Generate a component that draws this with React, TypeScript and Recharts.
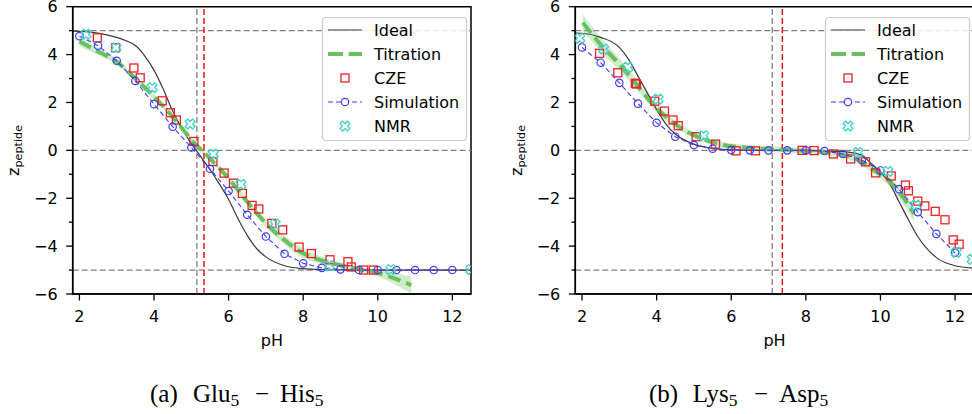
import React from 'react';
import { ComposedChart, Line, Scatter, Area, XAxis, YAxis, ReferenceLine, ReferenceArea } from 'recharts';

const FONT = '"DejaVu Sans", sans-serif';
const SERIF = '"Liberation Serif", "Times New Roman", serif';

// axes
const X_MIN = 1.82;
const X_MAX = 12.5;
const xTicks = [2, 4, 6, 8, 10, 12];
const yTicks = [-6, -5, -4, -3, -2, -1, 0, 1, 2, 3, 4, 5, 6];
const guideZ = [5, 0, -5];

// (a) Glu5 - His5
const idealPhA = [1.82, 2, 2.5, 3, 3.25, 3.5, 3.75, 4, 4.25, 4.5, 4.75, 5, 5.25, 5.5, 5.75, 6, 6.25, 6.5, 6.75, 7, 7.5, 8, 8.5, 9, 10, 11, 12.5];
const idealZA = [4.98, 4.97, 4.9, 4.72, 4.58, 4.38, 3.95, 3.35, 2.55, 1.65, 0.9, 0.28, -0.25, -0.8, -1.4, -2.05, -2.85, -3.55, -4.1, -4.45, -4.82, -4.94, -4.98, -4.99, -5, -5, -5];
const titPhA = [2.0, 2.5, 3, 3.5, 4, 4.5, 5, 5.5, 6, 6.5, 7, 7.5, 8, 8.5, 9, 9.5, 10, 10.5, 10.9];
const titZA = [4.55, 4.13, 3.7, 3.0, 2.24, 1.4, 0.45, -0.34, -1.17, -2.15, -3.05, -3.75, -4.3, -4.6, -4.8, -4.97, -5.12, -5.38, -5.63];
const titErrA = [0.2, 0.15, 0.12, 0.1, 0.1, 0.1, 0.1, 0.1, 0.1, 0.12, 0.15, 0.18, 0.2, 0.15, 0.1, 0.1, 0.15, 0.25, 0.35];
const czePhA = [2.48, 2.97, 3.46, 3.63, 4.22, 4.44, 4.6, 5.07, 5.58, 5.88, 6.13, 6.37, 6.63, 6.81, 7.16, 7.45, 7.89, 8.22, 8.72, 9.2, 9.29, 9.62, 9.88];
const czeZA = [4.7, 4.29, 3.44, 3.03, 2.07, 1.57, 1.27, 0.37, -0.47, -0.95, -1.37, -1.8, -2.3, -2.45, -3.05, -3.32, -4.04, -4.31, -4.57, -4.65, -4.87, -5.0, -5.0];
const simPh = [2, 2.5, 3, 3.5, 4, 4.5, 5, 5.5, 6, 6.5, 7, 7.5, 8, 8.5, 9, 9.5, 10, 10.5, 11, 11.5, 12];
const simZA = [4.77, 4.37, 3.74, 2.9, 1.93, 0.99, 0.12, -0.77, -1.7, -2.69, -3.6, -4.32, -4.72, -4.91, -4.97, -5.0, -5.0, -5.0, -5.0, -5.0, -5.0];
const nmrPhA = [2.18, 2.98, 3.95, 4.97, 5.59, 6.33, 7.25, 8.7, 10.35, 12.5];
const nmrZA = [4.85, 4.29, 2.62, 1.1, -0.16, -1.42, -3.08, -4.82, -4.98, -4.98];
const pIA = [5.15, 5.34];

// (b) Lys5 - Asp5
const idealPhB = [1.82, 2, 2.5, 3, 3.25, 3.5, 3.75, 4, 4.25, 4.5, 5, 5.5, 6, 7, 8, 9, 9.5, 9.75, 10, 10.25, 10.5, 10.75, 11, 11.5, 12, 12.5];
const idealZB = [4.9, 4.89, 4.72, 4.3, 3.8, 3.1, 2.4, 1.7, 1.1, 0.68, 0.26, 0.08, 0.02, 0, -0.01, -0.05, -0.2, -0.55, -0.9, -1.4, -2.15, -2.9, -3.6, -4.48, -4.82, -4.92];
const titPhB = [2.02, 2.5, 3, 3.4, 3.8, 4.2, 4.66, 5.2, 5.7, 6.4, 7, 7.5, 8, 8.5, 9, 9.25, 9.75, 10.2, 10.65, 10.9];
const titZB = [5.33, 4.42, 3.6, 2.87, 2.1, 1.47, 0.92, 0.5, 0.25, 0.11, 0.05, 0.02, -0.02, -0.08, -0.2, -0.28, -0.75, -1.24, -2.05, -2.65];
const titErrB = [0.35, 0.3, 0.25, 0.2, 0.18, 0.15, 0.13, 0.12, 0.12, 0.12, 0.12, 0.12, 0.12, 0.12, 0.12, 0.13, 0.15, 0.2, 0.28, 0.35];
const czePhB = [2.47, 2.96, 3.43, 3.46, 3.95, 4.21, 4.44, 4.58, 5.06, 5.58, 6.13, 6.65, 7.9, 8.22, 8.74, 9.2, 9.6, 9.87, 10.29, 10.67, 10.75, 11.0, 11.19, 11.47, 11.73, 11.95, 12.11];
const czeZB = [4.05, 3.24, 2.8, 2.77, 2.05, 1.64, 1.27, 1.03, 0.57, 0.26, -0.02, -0.02, 0, -0.01, -0.15, -0.36, -0.48, -0.94, -1.07, -1.45, -1.69, -2.12, -2.32, -2.55, -2.9, -3.74, -3.92];
const simZB = [4.3, 3.66, 2.82, 1.95, 1.15, 0.57, 0.22, 0.07, 0.01, 0, 0, 0, 0, -0.03, -0.15, -0.41, -0.84, -1.62, -2.58, -3.49, -4.28];
const nmrPhB = [1.94, 2.58, 3.23, 4.04, 5.26, 9.4, 10.2, 10.95, 12.03, 12.46];
const nmrZB = [4.68, 4.23, 3.47, 2.14, 0.61, -0.09, -0.88, -2.29, -4.26, -4.55];
const pIB = [7.1, 7.37];

const legendNames = ['Ideal', 'Titration', 'CZE', 'Simulation', 'NMR'];

const C_IDEAL = '#3a3a3a';
const C_TIT = '#6abf5e';
const C_BAND = '#a9dca0';
const C_CZE = '#e82222';
const C_SIM = '#3c3cff';
const C_NMR = '#45cfc6';
const C_GUIDE = '#808080';

const pts = (xs: number[], ys: number[]) => xs.map((x, i) => ({ x, y: ys[i] }));
const bandPts = (xs: number[], ys: number[], err: number[]) =>
  xs.map((x, i) => ({ x, band: [ys[i] - err[i], ys[i] + err[i]] }));

const fmt = (v: number) => (v < 0 ? `\u2212${-v}` : `${v}`);

const XTick = (p: any) => (
  <g>
    <line x1={p.x} x2={p.x} y1={p.y} y2={p.y + 6.5} stroke="#000" strokeWidth={1.3} />
    <text x={p.x} y={p.y + 28.3} textAnchor="middle" fontSize={16} fontFamily={FONT} fill="#000">
      {fmt(p.payload.value)}
    </text>
  </g>
);

const YTick = (p: any) => {
  const major = p.payload.value % 2 === 0;
  const len = major ? 6.5 : 3.8;
  return (
    <g>
      <line x1={p.x - len} x2={p.x} y1={p.y} y2={p.y} stroke="#000" strokeWidth={1.3} />
      {major && (
        <text x={p.x - 15} y={p.y} dy="0.36em" textAnchor="end" fontSize={16} fontFamily={FONT} fill="#000">
          {fmt(p.payload.value)}
        </text>
      )}
    </g>
  );
};

const YLabel = ({ bx, cy }: { bx: number; cy: number }) => (
  <text
    x={bx}
    y={cy}
    transform={`rotate(-90, ${bx}, ${cy})`}
    textAnchor="middle"
    fontFamily={FONT}
    fontSize={16}
    fill="#000"
  >
    z
    <tspan fontSize={11.2} dy={3}>
      peptide
    </tspan>
  </text>
);

const Square = (p: any) => (
  <rect x={p.cx - 4} y={p.cy - 4} width={8} height={8} fill="none" stroke={C_CZE} strokeWidth={1.3} />
);

const xPath = (cx: number, cy: number, s = 5.2, w = 1.8) => {
  const raw = [
    [-w, -s], [w, -s], [w, -w], [s, -w], [s, w], [w, w],
    [w, s], [-w, s], [-w, w], [-s, w], [-s, -w], [-w, -w],
  ];
  const c = Math.SQRT1_2;
  return (
    raw
      .map(([a, b], i) => `${i ? 'L' : 'M'}${(cx + (a - b) * c).toFixed(2)},${(cy + (a + b) * c).toFixed(2)}`)
      .join(' ') + ' Z'
  );
};

const XMark = (p: any) => (
  <path d={xPath(p.cx, p.cy)} fill="none" stroke={C_NMR} strokeWidth={1.3} strokeLinejoin="round" />
);

const CH = 360;

type PanelProps = {
  left: number;
  width: number;
  axisW: number;
  marginRight: number;
  ideal: { x: number; y: number }[];
  tit: { x: number; y: number }[];
  band: { x: number; band: number[] }[];
  cze: { x: number; y: number }[];
  sim: { x: number; y: number }[];
  nmr: { x: number; y: number }[];
  pI: number[];
};

const Legend = ({ x }: { x: number }) => {
  const rowY = (i: number) => 13 + i * 24;
  return (
    <svg
      width={146}
      height={126}
      style={{ position: 'absolute', left: x, top: 16.5, overflow: 'visible' }}
    >
      <rect x={0.5} y={0.5} width={144} height={123} rx={3} fill="#fff" fillOpacity={0.85} stroke="#cccccc" strokeWidth={1.2} />
      <line x1={6} x2={40} y1={rowY(0)} y2={rowY(0)} stroke={C_IDEAL} strokeWidth={1.2} />
      <line x1={6} x2={40} y1={rowY(1)} y2={rowY(1)} stroke={C_TIT} strokeWidth={4} strokeDasharray="15 5.7" />
      <Square cx={23} cy={rowY(2)} />
      <line x1={6} x2={40} y1={rowY(3)} y2={rowY(3)} stroke={C_SIM} strokeWidth={1.2} strokeDasharray="5 3" />
      <circle cx={23} cy={rowY(3)} r={3.7} fill="#fff" stroke={C_SIM} strokeWidth={1.2} />
      <XMark cx={23} cy={rowY(4)} />
      {legendNames.map((n, i) => (
        <text key={n} x={52} y={rowY(i)} dy="0.36em" fontSize={16} fontFamily={FONT} fill="#000">
          {n}
        </text>
      ))}
    </svg>
  );
};

const Panel = (p: PanelProps) => {
  const plotLeft = p.axisW + 0.5;
  return (
    <div style={{ position: 'absolute', left: p.left, top: 0, width: p.width, height: CH }}>
      <ComposedChart width={p.width} height={CH} margin={{ top: 6.7, right: p.marginRight, bottom: 0, left: 0.5 }}>
        <XAxis
          type="number"
          dataKey="x"
          domain={[X_MIN, X_MAX]}
          ticks={xTicks}
          interval={0}
          allowDataOverflow
          height={66}
          tickSize={0}
          tickMargin={0}
          tick={XTick}
          axisLine={{ stroke: '#000', strokeWidth: 1.5 }}
          label={{ value: 'pH', position: 'insideBottom', offset: 14, fontSize: 16, fill: '#000', fontFamily: FONT }}
        />
        <YAxis
          type="number"
          domain={[-6, 6]}
          ticks={yTicks}
          interval={0}
          allowDataOverflow
          width={p.axisW}
          tickSize={0}
          tickMargin={0}
          tick={YTick}
          axisLine={{ stroke: '#000', strokeWidth: 1.5 }}
          label={<YLabel bx={p.axisW - 53} cy={150.4} />}
        />
        <ReferenceArea x1={X_MIN} x2={X_MAX} y1={-6} y2={6} fill="none" fillOpacity={0} stroke="#000" strokeWidth={1.5} />
        {guideZ.map((z) => (
          <ReferenceLine key={z} y={z} stroke={C_GUIDE} strokeWidth={1.2} strokeDasharray="6 3" />
        ))}
        <ReferenceLine x={p.pI[0]} stroke={C_GUIDE} strokeWidth={1.3} strokeDasharray="6 3" />
        <ReferenceLine x={p.pI[1]} stroke="#ee1111" strokeWidth={1.5} strokeDasharray="6 3" />
        <Area
          data={p.band}
          dataKey="band"
          type="monotone"
          stroke="none"
          fill={C_BAND}
          fillOpacity={0.55}
          isAnimationActive={false}
          activeDot={false}
        />
        <Line data={p.ideal} dataKey="y" type="monotone" stroke={C_IDEAL} strokeWidth={1.2} dot={false} isAnimationActive={false} />
        <Line
          data={p.tit}
          dataKey="y"
          type="monotone"
          stroke={C_TIT}
          strokeWidth={4}
          strokeDasharray="13 6"
          dot={false}
          isAnimationActive={false}
        />
        <Scatter data={p.cze} dataKey="y" shape={Square} isAnimationActive={false} />
        <Line
          data={p.sim}
          dataKey="y"
          type="linear"
          stroke={C_SIM}
          strokeWidth={1.1}
          strokeDasharray="5 3"
          dot={{ r: 3.7, fill: 'none', stroke: C_SIM, strokeWidth: 1.2, strokeDasharray: '' }}
          isAnimationActive={false}
        />
        <Scatter data={p.nmr} dataKey="y" shape={XMark} isAnimationActive={false} />
      </ComposedChart>
      <Legend x={plotLeft + 249.6} />
    </div>
  );
};

const Caption = ({ parts, xs }: { parts: string[]; xs: number[] }) => (
  <>
    <tspan x={xs[0]}>{parts[0]}</tspan>
    <tspan x={xs[1]}>{parts[1]}</tspan>
    <tspan fontSize={17.5} dy={4}>5</tspan>
    <tspan x={xs[2]} dy={-4}>{'\u2212'}</tspan>
    <tspan x={xs[3]}>{parts[2]}</tspan>
    <tspan fontSize={17.5} dy={4}>5</tspan>
  </>
);

export default function App() {
  return (
    <div
      style={{
        position: 'absolute',
        left: 0,
        top: 0,
        width: 972,
        height: 414,
        overflow: 'hidden',
        background: '#fff',
      }}
    >
      <Panel
        left={0}
        width={486}
        axisW={72.2}
        marginRight={15}
        ideal={pts(idealPhA, idealZA)}
        tit={pts(titPhA, titZA)}
        band={bandPts(titPhA, titZA, titErrA)}
        cze={pts(czePhA, czeZA)}
        sim={pts(simPh, simZA)}
        nmr={pts(nmrPhA, nmrZA)}
        pI={pIA}
      />
      <Panel
        left={486}
        width={500}
        axisW={88.8}
        marginRight={12.3}
        ideal={pts(idealPhB, idealZB)}
        tit={pts(titPhB, titZB)}
        band={bandPts(titPhB, titZB, titErrB)}
        cze={pts(czePhB, czeZB)}
        sim={pts(simPh, simZB)}
        nmr={pts(nmrPhB, nmrZB)}
        pI={pIB}
      />
      <svg width={972} height={60} style={{ position: 'absolute', left: 0, top: 360 }}>
        <text y={41.7} fontFamily={SERIF} fontSize={25} fill="#000">
          <Caption parts={['(a)', 'Glu', 'His']} xs={[150, 193, 255, 280]} />
        </text>
        <text y={41.7} fontFamily={SERIF} fontSize={25} fill="#000">
          <Caption parts={['(b)', 'Lys', 'Asp']} xs={[649, 692.7, 754, 779.3]} />
        </text>
      </svg>
    </div>
  );
}
